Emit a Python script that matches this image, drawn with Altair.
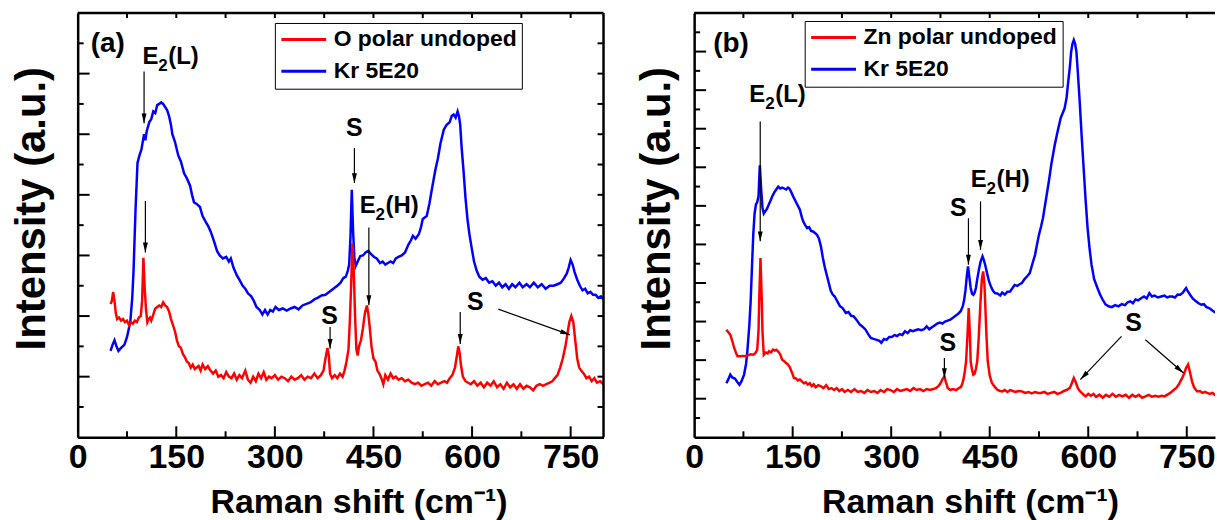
import math
import altair as alt
import pandas as pd

# ---------------- data ----------------
L_BLUE_X = [50, 53, 56, 59, 62, 66, 71, 75, 80, 83, 85, 88, 91, 94, 97, 101, 103, 105, 109, 112, 115, 118, 121, 124, 127, 130, 133, 136, 139, 142, 144, 148, 153, 157, 162, 166, 171, 174, 177, 181, 186, 190, 195, 199, 203, 207, 212, 216, 221, 226, 230, 233, 237, 242, 246, 251, 255, 259, 264, 268, 272, 277, 281, 285, 289, 293, 297, 301, 306, 312, 318, 324, 330, 336, 342, 348, 354, 360, 365, 371, 377, 383, 389, 395, 400, 404, 408, 411, 413, 415, 417, 419, 421, 423, 426, 430, 434, 438, 442, 446, 451, 455, 460, 464, 468, 472, 476, 480, 484, 488, 493, 498, 503, 507, 510, 514, 519, 522, 525, 528, 531, 535, 539, 544, 548, 552, 557, 561, 566, 569, 572, 575, 578, 580, 582, 584, 587, 590, 593, 596, 599, 603, 607, 611, 616, 621, 626, 631, 636, 641, 646, 651, 656, 661, 666, 672, 677, 683, 688, 694, 700, 706, 712, 718, 724, 730, 735, 740, 744, 747, 750, 753, 756, 760, 764, 768, 772, 776, 780, 784, 788, 792, 796, 800]
L_BLUE_Y = [2.85, 3.05, 3.2, 3.0, 2.85, 2.95, 3.05, 3.3, 3.8, 4.6, 5.5, 7.5, 9.05, 9.3, 9.5, 10.0, 9.8, 10.1, 10.4, 10.5, 10.75, 10.7, 10.96, 11.0, 11.05, 11.0, 10.9, 10.8, 10.6, 10.3, 10.0, 9.75, 9.3, 9.1, 8.7, 8.55, 8.3, 8.0, 7.75, 7.7, 7.6, 7.3, 7.1, 6.95, 6.75, 6.5, 6.15, 6.0, 5.9, 5.95, 5.8, 5.9, 5.6, 5.35, 5.2, 5.0, 4.9, 4.75, 4.65, 4.5, 4.3, 4.2, 4.05, 4.2, 4.05, 4.2, 4.15, 4.3, 4.2, 4.25, 4.18, 4.25, 4.3, 4.22, 4.35, 4.4, 4.45, 4.55, 4.6, 4.68, 4.7, 4.8, 4.9, 5.0, 5.1, 5.25, 5.3, 5.5, 5.7, 6.6, 8.17, 6.8, 5.9, 5.65, 5.8, 5.98, 6.0, 6.1, 6.15, 6.05, 5.95, 5.9, 5.75, 5.8, 5.7, 5.75, 5.8, 5.75, 5.9, 5.95, 6.0, 6.1, 6.35, 6.5, 6.65, 6.55, 6.7, 6.9, 7.2, 7.25, 7.3, 7.7, 8.2, 8.8, 9.2, 9.7, 10.15, 10.3, 10.4, 10.6, 10.65, 10.55, 10.75, 10.6, 10.3, 9.6, 8.8, 7.9, 7.2, 6.7, 6.3, 5.8, 5.5, 5.3, 5.2, 5.25, 5.1, 5.15, 5.0, 5.1, 4.95, 5.05, 4.9, 5.05, 4.95, 5.1, 4.95, 5.05, 4.95, 5.1, 4.95, 5.05, 4.9, 5.0, 5.0, 5.05, 5.1, 5.25, 5.4, 5.6, 5.85, 5.7, 5.45, 5.2, 5.0, 4.85, 4.9, 4.75, 4.8, 4.7, 4.7, 4.6, 4.65, 4.55]

L_RED_X = [50, 52, 54, 56, 58, 60, 63, 66, 69, 72, 75, 78, 81, 84, 87, 90, 93, 96, 98, 100, 102, 104, 106, 108, 110, 112, 115, 118, 121, 124, 127, 130, 133, 136, 139, 142, 145, 148, 151, 154, 157, 160, 163, 166, 169, 172, 175, 178, 181, 184, 187, 190, 194, 198, 202, 206, 210, 214, 218, 222, 226, 230, 234, 238, 242, 246, 250, 255, 259, 263, 267, 271, 275, 279, 283, 287, 291, 295, 300, 305, 310, 315, 320, 325, 330, 335, 340, 345, 350, 355, 360, 365, 370, 374, 377, 380, 382, 384, 387, 391, 395, 399, 403, 406, 409, 412, 414, 416, 418, 420, 422, 424, 426, 428, 431, 434, 437, 440, 442, 444, 447, 450, 453, 456, 459, 462, 465, 468, 472, 476, 480, 484, 488, 493, 498, 503, 508, 513, 518, 523, 528, 533, 538, 543, 548, 553, 558, 562, 566, 570, 574, 577, 579, 581, 583, 586, 590, 594, 598, 603, 608, 613, 618, 623, 628, 633, 638, 643, 648, 653, 658, 663, 668, 673, 678, 683, 688, 693, 698, 703, 708, 713, 718, 722, 726, 730, 734, 738, 742, 745, 748, 751, 754, 757, 760, 763, 766, 770, 774, 778, 782, 786, 790, 795, 800]
L_RED_Y = [4.4, 4.5, 4.8, 4.5, 4.1, 3.9, 3.95, 3.85, 3.9, 3.8, 3.85, 3.7, 3.8, 3.75, 3.85, 3.8, 3.95, 4.0, 4.5, 5.92, 4.9, 4.2, 3.8, 3.9, 3.95, 3.85, 4.05, 4.25, 4.3, 4.35, 4.3, 4.45, 4.35, 4.3, 4.15, 3.9, 3.7, 3.5, 3.2, 3.0, 2.95, 2.75, 2.65, 2.5, 2.45, 2.3, 2.4, 2.25, 2.3, 2.35, 2.2, 2.4, 2.25, 2.35, 2.2, 2.1, 2.2, 2.0, 2.05, 1.95, 2.15, 2.0, 1.95, 2.1, 1.9, 2.05, 1.95, 2.2, 1.9, 1.8, 2.0, 1.85, 2.1, 1.95, 2.15, 1.9, 2.0, 1.95, 2.05, 1.9, 2.0, 1.95, 1.85, 2.0, 1.9, 1.95, 2.05, 1.9, 2.0, 1.95, 2.1, 1.95, 2.05, 2.2, 2.6, 2.95, 2.7, 2.1, 1.95, 2.05, 1.95, 2.1, 2.0, 2.2, 2.5, 2.9, 3.8, 5.0, 6.4, 5.5, 4.0, 2.9, 2.7, 3.0, 3.2, 3.6, 4.1, 4.35, 4.1, 3.7, 3.0, 2.6, 2.5, 2.2, 2.1, 1.95, 1.75, 2.05, 1.9, 2.1, 1.95, 2.0, 1.9, 1.95, 1.85, 1.9, 1.8, 1.75, 1.8, 1.7, 1.75, 1.8, 1.7, 1.85, 1.75, 1.8, 1.85, 1.8, 1.95, 2.05, 2.3, 2.7, 3.0, 2.8, 2.4, 2.0, 1.85, 1.8, 1.75, 1.85, 1.7, 1.8, 1.65, 1.8, 1.7, 1.85, 1.65, 1.75, 1.6, 1.8, 1.65, 1.75, 1.6, 1.75, 1.6, 1.7, 1.65, 1.55, 1.7, 1.75, 1.7, 1.75, 1.8, 1.85, 1.95, 2.05, 2.3, 2.6, 3.0, 3.4, 3.8, 4.0, 3.8, 3.2, 2.6, 2.3, 2.2, 2.1, 1.95, 2.0, 1.85, 1.95, 1.8, 1.85, 1.75]

R_BLUE_X = [49, 52, 55, 58, 62, 66, 69, 72, 76, 79, 81, 84, 86, 88, 90, 92, 94, 96, 98, 100, 102, 104, 106, 108, 111, 114, 116, 119, 122, 125, 128, 131, 134, 137, 140, 143, 145, 148, 152, 155, 158, 161, 164, 166, 169, 172, 175, 178, 181, 184, 187, 190, 193, 196, 199, 202, 205, 208, 211, 214, 218, 222, 226, 231, 235, 239, 243, 247, 252, 256, 261, 265, 269, 273, 278, 282, 285, 289, 293, 297, 301, 305, 309, 313, 317, 321, 325, 329, 333, 337, 341, 346, 350, 354, 358, 362, 366, 370, 374, 378, 382, 386, 390, 394, 398, 402, 406, 409, 411, 413, 415, 417, 419, 421, 423, 425, 427, 429, 431, 434, 436, 439, 441, 443, 446, 449, 452, 455, 458, 462, 466, 469, 473, 477, 481, 485, 488, 492, 496, 499, 503, 507, 511, 515, 519, 522, 525, 528, 531, 535, 540, 544, 549, 553, 558, 561, 564, 567, 569, 572, 574, 576, 578, 580, 582, 584, 587, 590, 593, 596, 599, 602, 605, 609, 614, 618, 622, 626, 631, 636, 641, 646, 651, 656, 660, 664, 668, 672, 676, 681, 685, 689, 693, 697, 701, 706, 711, 716, 720, 724, 728, 732, 736, 740, 744, 747, 749, 751, 755, 759, 764, 768, 772, 776, 780, 784, 788, 792, 796]
R_BLUE_Y = [2.8, 3.0, 3.25, 3.1, 3.05, 2.85, 2.72, 2.9, 3.25, 3.8, 4.46, 5.8, 7.05, 8.8, 10.5, 11.6, 12.06, 12.2, 12.5, 14.1, 12.9, 11.9, 11.6, 11.7, 11.85, 12.1, 12.25, 12.5, 12.7, 12.85, 13.0, 12.9, 12.95, 12.9, 12.85, 12.95, 12.9, 12.7, 12.4, 12.2, 12.0, 11.8, 11.4, 11.2, 11.0, 10.85, 10.9, 10.7, 10.67, 10.6, 10.5, 10.3, 9.9, 9.3, 8.8, 8.4, 8.0, 7.6, 7.4, 7.3, 7.05, 6.8, 6.7, 6.45, 6.5, 6.3, 6.27, 6.1, 5.85, 5.75, 5.58, 5.35, 5.15, 5.1, 5.05, 5.0, 4.9, 5.1, 5.05, 5.2, 5.2, 5.3, 5.25, 5.35, 5.3, 5.5, 5.4, 5.55, 5.5, 5.55, 5.6, 5.55, 5.6, 5.75, 5.6, 5.7, 5.8, 5.9, 5.95, 5.9, 6.0, 6.05, 6.1, 6.2, 6.3, 6.4, 6.55, 6.8, 7.1, 7.6, 8.3, 8.86, 8.3, 7.74, 7.45, 7.39, 7.5, 7.74, 8.2, 8.77, 9.1, 9.38, 9.2, 8.95, 8.5, 8.08, 7.8, 7.6, 7.48, 7.45, 7.35, 7.5, 7.4, 7.55, 7.56, 7.75, 7.9, 7.85, 7.95, 8.0, 8.2, 8.35, 8.51, 9.0, 9.46, 10.0, 10.5, 10.9, 11.36, 12.2, 13.26, 14.2, 15.16, 15.8, 16.55, 16.8, 17.06, 17.6, 18.27, 19.2, 20.0, 20.4, 20.6, 20.4, 20.0, 19.0, 17.4, 15.6, 13.95, 12.3, 10.85, 9.8, 8.95, 8.2, 7.74, 7.4, 7.13, 6.9, 6.79, 6.75, 6.85, 6.79, 6.9, 6.85, 7.0, 7.05, 6.95, 7.15, 7.1, 7.22, 7.3, 7.2, 7.48, 7.3, 7.35, 7.25, 7.3, 7.35, 7.25, 7.3, 7.3, 7.25, 7.4, 7.39, 7.5, 7.65, 7.74, 7.6, 7.39, 7.2, 7.05, 6.95, 6.87, 6.9, 6.75, 6.7, 6.6, 6.5, 6.44]

R_RED_X = [49, 52, 55, 58, 61, 64, 66, 70, 74, 78, 82, 86, 90, 93, 96, 98, 99, 101, 103, 104, 106, 109, 112, 114, 117, 120, 123, 125, 128, 131, 134, 137, 140, 143, 146, 149, 152, 155, 158, 161, 164, 167, 170, 173, 176, 179, 182, 185, 189, 193, 197, 201, 205, 209, 213, 217, 221, 225, 229, 234, 239, 244, 249, 254, 259, 264, 269, 274, 279, 284, 289, 294, 299, 304, 309, 314, 319, 324, 329, 334, 339, 344, 349, 354, 359, 364, 368, 372, 375, 378, 381, 383, 386, 390, 394, 399, 403, 406, 408, 410, 412, 414, 416, 418, 420, 421, 423, 425, 427, 429, 431, 433, 436, 438, 440, 442, 443, 445, 447, 450, 453, 455, 458, 462, 466, 469, 473, 477, 481, 485, 489, 494, 499, 504, 509, 514, 519, 524, 528, 533, 538, 543, 548, 553, 558, 563, 567, 572, 575, 578, 581, 584, 587, 590, 593, 596, 600, 604, 608, 612, 617, 622, 627, 632, 637, 642, 647, 652, 657, 662, 667, 672, 677, 682, 687, 692, 697, 702, 707, 712, 716, 720, 725, 730, 734, 738, 741, 743, 746, 749, 752, 754, 756, 758, 761, 764, 766, 770, 774, 778, 781, 785, 789, 793, 796]
R_RED_Y = [5.58, 5.45, 5.32, 5.0, 4.63, 4.35, 4.2, 4.2, 4.22, 4.2, 4.25, 4.3, 4.28, 4.35, 4.54, 5.5, 7.05, 9.29, 7.05, 5.5, 4.28, 4.4, 4.35, 4.46, 4.4, 4.55, 4.5, 4.54, 4.45, 4.3, 4.02, 3.95, 3.85, 3.77, 3.6, 3.35, 3.07, 3.05, 2.95, 3.0, 2.9, 2.8, 2.85, 2.73, 2.8, 2.65, 2.75, 2.6, 2.7, 2.64, 2.55, 2.7, 2.5, 2.55, 2.45, 2.55, 2.4, 2.5, 2.35, 2.45, 2.35, 2.5, 2.35, 2.4, 2.3, 2.45, 2.35, 2.4, 2.3, 2.45, 2.35, 2.5, 2.45, 2.35, 2.5, 2.4, 2.45, 2.5, 2.4, 2.55, 2.45, 2.5, 2.4, 2.5, 2.45, 2.5, 2.55, 2.65, 2.8, 3.0, 3.16, 2.9, 2.56, 2.45, 2.5, 2.45, 2.55, 2.6, 2.75, 3.0, 3.4, 3.94, 5.2, 6.7, 5.2, 3.94, 3.5, 3.25, 3.3, 3.55, 3.94, 5.0, 7.05, 8.2, 8.6, 7.9, 7.05, 5.3, 3.94, 3.2, 2.85, 2.73, 2.6, 2.45, 2.4, 2.38, 2.45, 2.35, 2.45, 2.4, 2.35, 2.4, 2.38, 2.3, 2.35, 2.28, 2.35, 2.3, 2.3, 2.35, 2.25, 2.3, 2.35, 2.25, 2.3, 2.4, 2.45, 2.56, 2.8, 3.07, 2.85, 2.56, 2.4, 2.3, 2.2, 2.12, 2.25, 2.15, 2.25, 2.1, 2.21, 2.05, 2.2, 2.1, 2.25, 2.1, 2.2, 2.12, 2.2, 2.05, 2.2, 2.1, 2.2, 2.05, 2.12, 2.2, 2.1, 2.15, 2.1, 2.15, 2.12, 2.2, 2.3, 2.45, 2.56, 2.75, 2.95, 3.07, 3.3, 3.6, 3.77, 3.5, 3.2, 2.9, 2.6, 2.45, 2.38, 2.4, 2.3, 2.35, 2.3, 2.25, 2.3, 2.2, 2.21]

LEFT_NAMES = ["O polar undoped", "Kr 5E20"]
RIGHT_NAMES = ["Zn polar undoped", "Kr 5E20"]
X_TICKS = [0, 150, 300, 450, 600, 750]
X_MINOR = [75, 225, 375, 525, 675]

# annotations: (x, y, text)
L_S_TEXT = [(421, 9.93, "S"), (383, 3.74, "S"), (605, 4.2, "S")]
L_PANEL = [(20, 12.72, "(a)")]
L_E2 = [(98.5, 12.33, "(L)"), (429, 7.41, "(H)")]
L_ARROWS = [(101, 12.07, 101, 10.36), (103, 7.8, 103, 6.1), (421, 9.54, 421, 8.39),
            (443, 6.92, 443, 4.36), (384, 3.64, 384, 2.92), (582, 4.13, 582, 3.08),
            (640, 4.23, 749, 3.38)]
R_S_TEXT = [(402, 11.45, "S"), (386, 4.49, "S"), (669, 5.49, "S")]
R_PANEL = [(29, 20.0, "(b)")]
R_E2 = [(84, 17.4, "(L)"), (421, 13.0, "(H)")]
R_ARROWS = [(100.6, 16.37, 100.6, 10.16), (417.6, 11.36, 417.6, 8.95), (436, 12.23, 436, 9.72),
            (381, 4.11, 381, 3.07), (650.6, 5.23, 588, 2.99), (687, 5.06, 745, 3.33)]

# ---------------- styling ----------------
FONT = "Liberation Sans, Arial, sans-serif"
H = 426
ARROW_PATH = "M0,0L-0.55,2.2L0.55,2.2Z"


def panel(red_x, red_y, blue_x, blue_y, names, ymax, W, xmax, s_text, panel_lbl,
          e2, arrows, legend_xy, title_x, ytitle_x, mirror_right):
    xaxis = alt.Axis(values=X_TICKS, format="d", grid=False, ticks=False, tickSize=0,
                     domain=True, domainColor="black", domainWidth=2.5,
                     labelFont=FONT, labelFontSize=34, labelFontWeight="bold",
                     labelColor="black", labelPadding=3, labelFlush=False, labelOverlap=False,
                     title="Raman shift (cm⁻¹)", titleFont=FONT, titleFontSize=34,
                     titleFontWeight="bold", titleColor="black", titleX=title_x, titleY=76,
                     titleBaseline="alphabetic", titleAlign="center")
    yaxis = alt.Axis(labels=False, ticks=False, tickSize=0, grid=False, domain=True,
                     domainColor="black", domainWidth=2.5, minExtent=0,
                     title="Intensity (a.u.)", titleFont=FONT, titleFontSize=42,
                     titleFontWeight="bold", titleColor="black", titleAngle=270,
                     titleX=ytitle_x, titleY=196, titleBaseline="bottom", titleAlign="center")
    xs = alt.X("x:Q", scale=alt.Scale(domain=[0, xmax], nice=False, zero=False), axis=xaxis)
    ys = alt.Y("y:Q", scale=alt.Scale(domain=[0, ymax], nice=False, zero=False), axis=yaxis)
    legend = alt.Legend(title=None, orient="none", legendX=legend_xy[0], legendY=legend_xy[1],
                        symbolType="stroke", symbolSize=2025, symbolStrokeWidth=3,
                        clipHeight=23,
                        labelFont=FONT, labelFontSize=23, labelFontWeight="bold",
                        labelColor="black", strokeColor="black", fillColor="white",
                        padding=5, rowPadding=8, labelOffset=6, labelLimit=400,
                        direction="vertical")
    color = alt.Color("series:N", scale=alt.Scale(domain=names, range=["#ff0000", "#0000ff"]),
                      legend=legend)

    blue = pd.DataFrame({"x": blue_x, "y": blue_y, "series": names[1]})
    red = pd.DataFrame({"x": red_x, "y": red_y, "series": names[0]})
    layers = [
        alt.Chart(blue).mark_line(strokeWidth=2.5, clip=True).encode(x=xs, y=ys, color=color),
        alt.Chart(red).mark_line(strokeWidth=2.5, clip=True).encode(x=xs, y=ys, color=color),
    ]

    one = pd.DataFrame({"k": [0]})
    # frame (top, and right for the left panel)
    layers.append(alt.Chart(one).mark_rule(color="black", strokeWidth=2.5).encode(
        x=alt.value(0), x2=alt.value(W), y=alt.value(0)))
    if mirror_right:
        layers.append(alt.Chart(one).mark_rule(color="black", strokeWidth=2.5).encode(
            x=alt.value(W), y=alt.value(0), y2=alt.value(H)))

    # inward ticks
    xmaj = pd.DataFrame({"x": [v for v in X_TICKS if v > 0]})
    xmin = pd.DataFrame({"x": X_MINOR})
    ymaj = pd.DataFrame({"y": list(range(2, ymax, 2))})
    ymin = pd.DataFrame({"y": list(range(1, ymax, 2))})
    tk = dict(color="black", strokeWidth=2)
    layers += [
        alt.Chart(xmaj).mark_rule(**tk).encode(x=xs, y=alt.value(H), y2=alt.value(H - 11)),
        alt.Chart(xmin).mark_rule(**tk).encode(x=xs, y=alt.value(H), y2=alt.value(H - 6)),
        alt.Chart(xmaj).mark_rule(**tk).encode(x=xs, y=alt.value(0), y2=alt.value(5)),
        alt.Chart(xmin).mark_rule(**tk).encode(x=xs, y=alt.value(0), y2=alt.value(5)),
        alt.Chart(ymaj).mark_rule(**tk).encode(y=ys, x=alt.value(0), x2=alt.value(12)),
        alt.Chart(ymin).mark_rule(**tk).encode(y=ys, x=alt.value(0), x2=alt.value(6)),
    ]
    if mirror_right:
        layers += [
            alt.Chart(ymaj).mark_rule(**tk).encode(y=ys, x=alt.value(W), x2=alt.value(W - 6)),
            alt.Chart(ymin).mark_rule(**tk).encode(y=ys, x=alt.value(W), x2=alt.value(W - 6)),
        ]

    # arrows
    sx, sy = W / xmax, H / ymax
    arr = pd.DataFrame(arrows, columns=["x", "y", "x2", "y2"])
    arr["ang"] = [math.degrees(math.atan2((r.x2 - r.x) * sx, (r.y2 - r.y) * sy)) % 360
                  for r in arr.itertuples()]
    layers.append(alt.Chart(arr).mark_rule(color="black", strokeWidth=1.2).encode(
        x=xs, y=ys, x2="x2:Q", y2="y2:Q"))
    head = arr[["x2", "y2", "ang"]].rename(columns={"x2": "x", "y2": "y"})
    layers.append(alt.Chart(head).mark_point(shape=ARROW_PATH, filled=True, size=81,
                                             color="black", opacity=1, strokeWidth=0).encode(
        x=xs, y=ys, angle=alt.Angle("ang:Q", scale=None)))

    # texts
    st = pd.DataFrame(s_text, columns=["x", "y", "t"])
    layers.append(alt.Chart(st).mark_text(font=FONT, fontSize=25, fontWeight="bold",
                                          color="black", align="center",
                                          baseline="alphabetic").encode(x=xs, y=ys, text="t:N"))
    pl = pd.DataFrame(panel_lbl, columns=["x", "y", "t"])
    layers.append(alt.Chart(pl).mark_text(font=FONT, fontSize=28, fontWeight="bold",
                                          color="black", align="left",
                                          baseline="alphabetic").encode(x=xs, y=ys, text="t:N"))
    e2d = pd.DataFrame(e2, columns=["x", "y", "tail"])
    e2d["E"] = "E"
    e2d["sub"] = "2"
    base = dict(font=FONT, fontWeight="bold", color="black", align="left", baseline="alphabetic")
    layers += [
        alt.Chart(e2d).mark_text(fontSize=24, **base).encode(x=xs, y=ys, text="E:N"),
        alt.Chart(e2d).mark_text(fontSize=17, dx=16, dy=7, **base).encode(x=xs, y=ys, text="sub:N"),
        alt.Chart(e2d).mark_text(fontSize=24, dx=26, **base).encode(x=xs, y=ys, text="tail:N"),
    ]

    return alt.layer(*layers).properties(width=W, height=H)


left = panel(L_RED_X, L_RED_Y, L_BLUE_X, L_BLUE_Y, LEFT_NAMES, 14, 528, 800,
             L_S_TEXT, L_PANEL, L_E2, L_ARROWS, (198, 10), 282, -24, True)
right = panel(R_RED_X, R_RED_Y, R_BLUE_X, R_BLUE_Y, RIGHT_NAMES, 22, 523, 793,
              R_S_TEXT, R_PANEL, R_E2, R_ARROWS, (111, 8), 277, -16, False)

chart = (
    alt.hconcat(left, right, spacing=29)
    .resolve_scale(color="independent", x="independent", y="independent")
    .resolve_legend(color="independent")
    .properties(padding={"left": 10, "top": 10, "right": 0, "bottom": 0}, background="white")
    .configure_view(stroke=None)
)

chart.save("out.html", embed_options={"renderer": "svg", "actions": False})
